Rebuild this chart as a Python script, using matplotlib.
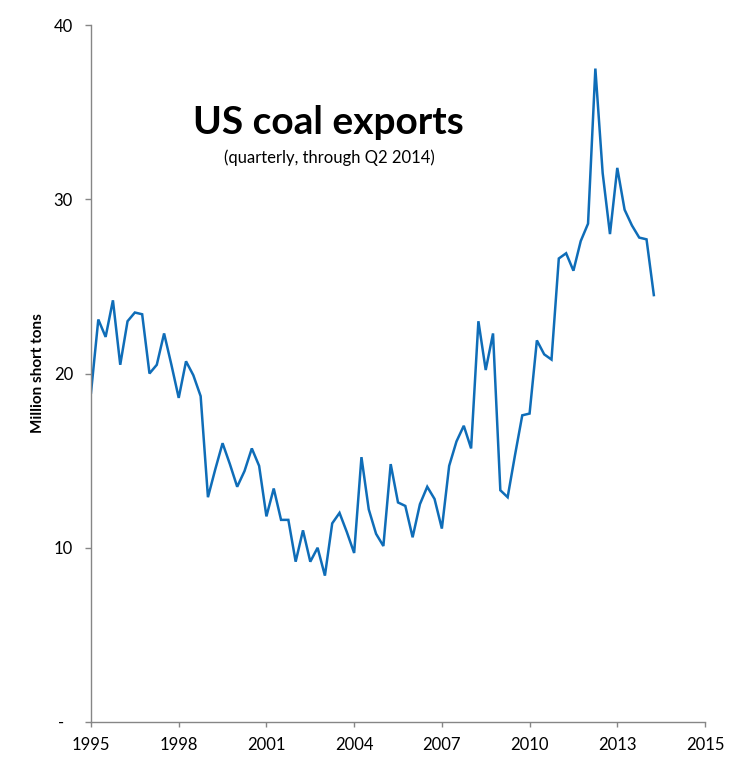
import matplotlib
matplotlib.use("Agg")
import matplotlib.pyplot as plt
import numpy as np

plt.rcParams['font.family'] = ['Lato', 'DejaVu Sans']

# Quarterly US coal exports, million short tons, Q1 1995 .. Q2 2014
start_year = 1995
exports = [
    18.9, 23.1, 22.1, 24.2,   # 1995
    20.5, 23.0, 23.5, 23.4,   # 1996
    20.0, 20.5, 22.3, 20.5,   # 1997
    18.6, 20.7, 19.9, 18.7,   # 1998
    12.9, 14.5, 16.0, 14.8,   # 1999
    13.5, 14.4, 15.7, 14.7,   # 2000
    11.8, 13.4, 11.6, 11.6,   # 2001
    9.2, 11.0, 9.2, 10.0,     # 2002
    8.4, 11.4, 12.0, 10.9,    # 2003
    9.7, 15.2, 12.2, 10.8,    # 2004
    10.1, 14.8, 12.6, 12.4,   # 2005
    10.6, 12.5, 13.5, 12.8,   # 2006
    11.1, 14.7, 16.1, 17.0,   # 2007
    15.7, 23.0, 20.2, 22.3,   # 2008
    13.3, 12.9, 15.3, 17.6,   # 2009
    17.7, 21.9, 21.1, 20.8,   # 2010
    26.6, 26.9, 25.9, 27.6,   # 2011
    28.6, 37.5, 31.5, 28.0,   # 2012
    31.8, 29.4, 28.5, 27.8,   # 2013
    27.7, 24.5,               # 2014
]
x_tick_pos = [1995, 1998, 2001, 2004, 2007, 2010, 2013, 2016]
x_tick_labels = ["1995", "1998", "2001", "2004", "2007", "2010", "2013", "2015"]
y_ticks = [0, 10, 20, 30, 40]
y_tick_labels = ["-  ", "10", "20", "30", "40"]

x = start_year + np.arange(len(exports)) / 4.0

fig = plt.figure(figsize=(7.49, 7.79), dpi=100)
ax = fig.add_axes([91/749, 57/779, 614/749, 697/779])
ax.plot(x, exports, color='#0F6DB8', linewidth=1.8, solid_joinstyle='miter')

ax.set_xlim(1995, 2016)
ax.set_ylim(0, 40)
ax.set_xticks(x_tick_pos)
ax.set_xticklabels(x_tick_labels)
ax.set_yticks(y_ticks)
ax.set_yticklabels(y_tick_labels)

for s in ['top', 'right']:
    ax.spines[s].set_visible(False)
for s in ['left', 'bottom']:
    ax.spines[s].set_color('#868686')
    ax.spines[s].set_linewidth(1.0)
ax.tick_params(axis='y', direction='out', length=4, width=1, color='#868686',
               labelsize=12, labelcolor='#000000', pad=9)
ax.tick_params(axis='x', direction='out', length=3.5, width=1, color='#868686',
               labelsize=12, labelcolor='#000000', pad=7)

ax.set_ylabel('Million short tons', fontsize=11, fontweight='bold', labelpad=6)

fig.text(328/749, 1 - 123/779, 'US coal exports', ha='center', va='center',
         fontsize=28, fontweight='bold')
fig.text(329/749, 1 - 158/779, '(quarterly, through Q2 2014)', ha='center',
         va='center', fontsize=12)

fig.savefig('out.png', dpi=100)
